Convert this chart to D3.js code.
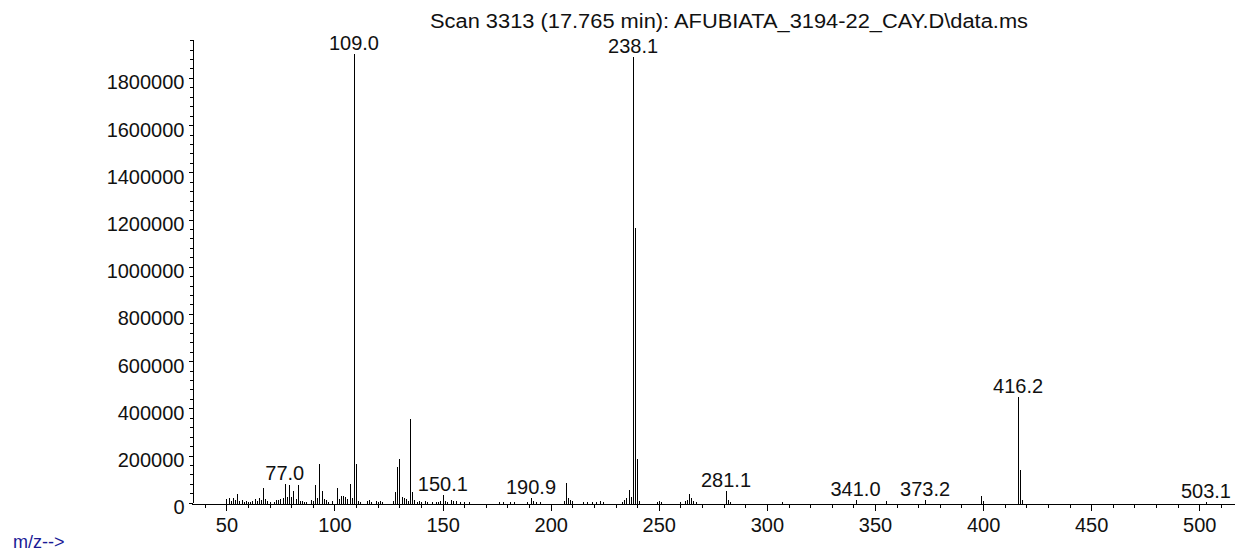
<!DOCTYPE html>
<html>
<head>
<meta charset="utf-8">
<script src="https://cdn.jsdelivr.net/npm/d3@7"></script>
<style>
  html, body { margin: 0; padding: 0; background: #fff; }
  svg { display: block; }
  text { font-family: "Liberation Sans", Arial, sans-serif; fill: #111; }
</style>
</head>
<body>
<svg id="chart" width="1236" height="552"></svg>
<script>
// ---- data ----
const title = "Scan 3313 (17.765 min): AFUBIATA_3194-22_CAY.D\\data.ms";
const xAxisLabel = "m/z-->";

const peakMz = [
  50, 51, 52, 53, 54, 55, 56, 57, 58, 59, 60, 61, 62, 63, 64, 65, 66, 67, 68, 69, 70, 72, 73, 74, 75, 76,
  77, 78, 79, 80, 81, 82, 83, 84, 85, 86, 87, 89, 90, 91, 92, 93, 94, 95, 96, 97, 99,
  101, 102, 103, 104, 105, 106, 107, 108, 109, 110, 111, 112, 115, 116, 117, 119, 120, 121, 122,
  127, 128, 129, 130, 131, 132, 133, 134, 135, 136, 137, 138, 139, 140, 142, 143, 145, 147, 148, 149,
  150.1, 151, 152, 154, 155, 156, 158, 160, 162, 176, 178, 181, 183, 189, 190.9, 192, 193, 195,
  206, 207, 208, 209, 210, 215, 217, 219, 221, 223, 224, 233, 234, 235, 236, 237, 238.1, 239, 240, 241,
  249, 250, 251, 260, 262, 263, 264, 265, 266, 267, 281.1, 282, 283, 307,
  341.0, 355, 373.2, 399, 400, 416.2, 417, 418, 503.1
];
const peakIntensity = [
  14000, 18000, 6000, 22000, 10000, 35000, 8000, 12000, 4000, 8000, 4000, 5000, 8000, 14000, 9000, 21000, 10000, 63000, 14000, 9000, 4000, 5000, 12000, 10000, 14000, 20000,
  79000, 24000, 76000, 25000, 48000, 14000, 76000, 9000, 6000, 4000, 3000, 10000, 8000, 76000, 20000, 165000, 50000, 15000, 12000, 4000, 6000,
  62000, 15000, 30000, 28000, 25000, 15000, 78000, 18000, 1901000, 165000, 9000, 4000, 8000, 10000, 5000, 7000, 4000, 7000, 5000,
  6000, 45000, 151000, 186000, 25000, 18000, 15000, 9000, 355000, 46000, 12000, 5000, 6000, 4000, 6000, 4000, 5000, 4000, 5000, 6000,
  32000, 8000, 5000, 12000, 8000, 6000, 4000, 3000, 3000, 3000, 4000, 3000, 3000, 4000, 20000, 6000, 4000, 5000,
  8000, 82000, 20000, 12000, 6000, 4000, 4000, 5000, 5000, 6000, 4000, 5000, 10000, 20000, 54000, 25000, 1890000, 1165000, 184000, 8000,
  4000, 8000, 3000, 5000, 6000, 12000, 35000, 18000, 9000, 4000, 50000, 12000, 4000, 3000,
  12000, 6000, 12000, 28000, 6000, 447000, 137000, 12000, 5000
];
const labelMz = [77.0, 109.0, 150.1, 190.9, 238.1, 281.1, 341.0, 373.2, 416.2, 503.1];

const yMajorTicks = [0, 200000, 400000, 600000, 800000, 1000000, 1200000, 1400000, 1600000, 1800000];
const xMajorTicks = [50, 100, 150, 200, 250, 300, 350, 400, 450, 500];

// ---- drawing ----
const svg = d3.select("#chart");
svg.append("rect").attr("width", 1236).attr("height", 552).attr("fill", "#fff");

const x = d3.scaleLinear().domain([33.95, 516.2]).range([191.7, 1234.3]);
const y = d3.scaleLinear().domain([0, 1965000]).range([502.7, 39]);

const snap = v => Math.round(v) + 0.5;

// minor y ticks
const yMinor = d3.range(0, 1965000, 40000);
svg.append("g")
  .attr("transform", `translate(${snap(x.range()[0])},0)`)
  .attr("shape-rendering", "crispEdges")
  .call(d3.axisLeft(y).tickValues(yMinor).tickSize(3).tickSizeOuter(0).tickFormat(""))
  .call(g => g.selectAll("line,path").attr("stroke", "#000"));

// major y ticks with labels
svg.append("g")
  .attr("transform", `translate(${snap(x.range()[0])},0)`)
  .attr("shape-rendering", "crispEdges")
  .call(d3.axisLeft(y).tickValues(yMajorTicks).tickSize(4).tickSizeOuter(0).tickPadding(4).tickFormat(d3.format("d")))
  .call(g => g.selectAll("line,path").attr("stroke", "#000"))
  .call(g => g.selectAll("text").attr("font-size", 20).attr("dy", "0.55em").attr("fill", "#111")
      .attr("font-family", "Liberation Sans, Arial, sans-serif"));

// minor x ticks
const xMinor = d3.range(40, 516, 10);
svg.append("g")
  .attr("transform", `translate(0,${snap(y(0))})`)
  .attr("shape-rendering", "crispEdges")
  .call(d3.axisBottom(x).tickValues(xMinor).tickSize(4).tickSizeOuter(0).tickFormat(""))
  .call(g => g.selectAll("line,path").attr("stroke", "#000"));

// major x ticks with labels
svg.append("g")
  .attr("transform", `translate(0,${snap(y(0))})`)
  .attr("shape-rendering", "crispEdges")
  .call(d3.axisBottom(x).tickValues(xMajorTicks).tickSize(7).tickSizeOuter(0).tickPadding(7).tickFormat(d3.format("d")))
  .call(g => g.selectAll("line,path").attr("stroke", "#000"))
  .call(g => g.selectAll("text").attr("font-size", 20).attr("fill", "#111")
      .attr("font-family", "Liberation Sans, Arial, sans-serif"));

// peaks
const peaks = peakMz.map((m, i) => ({ mz: m, v: peakIntensity[i] }));
svg.append("g")
  .attr("shape-rendering", "crispEdges")
  .selectAll("line")
  .data(peaks)
  .join("line")
  .attr("x1", d => snap(x(d.mz)))
  .attr("x2", d => snap(x(d.mz)))
  .attr("y1", snap(y(0)))
  .attr("y2", d => Math.round(y(d.v)))
  .attr("stroke", "#000")
  .attr("stroke-width", 1);

// peak labels
svg.append("g")
  .selectAll("text")
  .data(labelMz)
  .join("text")
  .attr("x", m => x(m))
  .attr("y", m => {
    const p = peaks.find(d => Math.abs(d.mz - m) < 0.01);
    return y(p ? p.v : 0) - 4;
  })
  .attr("text-anchor", "middle")
  .attr("font-size", 20)
  .text(m => m.toFixed(1));

// title
svg.append("text")
  .attr("x", 430)
  .attr("y", 28)
  .attr("font-size", 20)
  .attr("textLength", 598)
  .attr("lengthAdjust", "spacingAndGlyphs")
  .text(title);

// x-axis caption
svg.append("text")
  .attr("x", 13)
  .attr("y", 548)
  .attr("font-size", 18)
  .style("fill", "#1a1a96")
  .text(xAxisLabel);
</script>
</body>
</html>
